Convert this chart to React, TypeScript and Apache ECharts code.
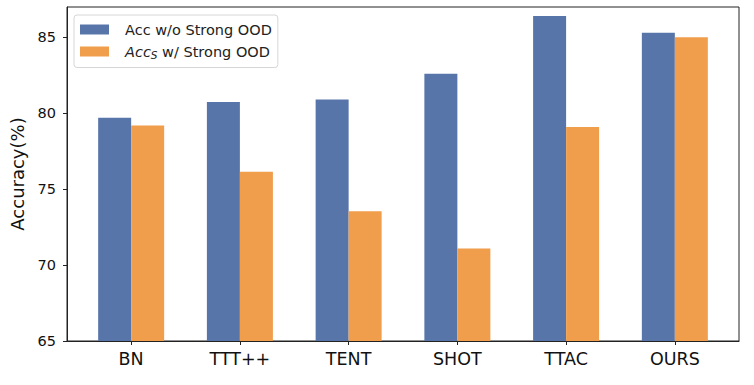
import React, { useEffect, useRef } from "react";
import * as echarts from "echarts";

const categories = ["BN", "TTT++", "TENT", "SHOT", "TTAC", "OURS"];
const accNoOOD = [79.7, 80.75, 80.9, 82.6, 86.4, 85.3];
const accStrongOOD = [79.2, 76.15, 73.55, 71.1, 79.1, 85.0];
const yTicks = [65, 70, 75, 80, 85];
const seriesNames = ["Acc w/o Strong OOD", "AccS w/ Strong OOD"];

export default function App() {
  const ref = useRef<HTMLDivElement>(null);
  useEffect(() => {
    document.body.style.margin = "0";
    const chart = echarts.init(ref.current!, null, { renderer: "svg" });
    const font = "DejaVu Sans";
    const xs = categories.map((_, i) => i);
    chart.setOption({
      animation: false,
      backgroundColor: "#ffffff",
      textStyle: { fontFamily: font },
      grid: {
        left: 67,
        top: 7,
        right: 15,
        bottom: 44,
        show: true,
        borderColor: "#222",
        borderWidth: 1,
        backgroundColor: "transparent",
      },
      legend: {
        orient: "vertical",
        left: 74,
        top: 15,
        padding: [7, 6, 7, 6],
        itemGap: 7,
        itemWidth: 29,
        itemHeight: 10,
        icon: "rect",
        backgroundColor: "rgba(255,255,255,0.8)",
        borderColor: "#d6d6d6",
        borderWidth: 1,
        borderRadius: 3,
        data: seriesNames,
        formatter: (name: string) =>
          name === seriesNames[1]
            ? "{i|Acc}{s|S}{n| w/ Strong OOD}"
            : "{n|" + name + "}",
        textStyle: {
          fontFamily: font,
          fontSize: 14.5,
          color: "#222",
          padding: [0, 0, 0, 11],
          rich: {
            n: { fontFamily: font, fontSize: 14.5, color: "#222" },
            i: { fontFamily: font, fontSize: 14.5, fontStyle: "italic", color: "#222" },
            s: { fontFamily: font, fontSize: 10.5, fontStyle: "italic", color: "#222", padding: [7, 0, 0, 0] },
          },
        },
      },
      xAxis: {
        type: "value",
        min: -0.59,
        max: 5.59,
        splitLine: { show: false },
        axisLine: { show: true, onZero: false, lineStyle: { color: "#222", width: 1 } },
        axisTick: { show: true, length: 4, customValues: xs, lineStyle: { color: "#222" } },
        axisLabel: {
          customValues: xs,
          formatter: (v: number) => categories[Math.round(v)],
          fontSize: 17.5,
          color: "#111",
          margin: 9,
          fontFamily: font,
        },
      },
      yAxis: {
        type: "value",
        min: 65,
        max: 87,
        interval: 5,
        name: "Accuracy(%)",
        nameLocation: "middle",
        nameGap: 34,
        nameTextStyle: { fontSize: 18, color: "#111", fontFamily: font },
        splitLine: { show: false },
        axisLine: { show: true, onZero: false, lineStyle: { color: "#222", width: 1 } },
        axisTick: { show: true, length: 4, customValues: yTicks, lineStyle: { color: "#222" } },
        axisLabel: {
          customValues: yTicks,
          fontSize: 14.5,
          color: "#111",
          margin: 11,
          fontFamily: font,
        },
      },
      series: [
        {
          name: seriesNames[0],
          type: "bar",
          barWidth: 33,
          barGap: "0%",
          itemStyle: { color: "#5875aa" },
          data: xs.map((x, i) => [x, accNoOOD[i]]),
        },
        {
          name: seriesNames[1],
          type: "bar",
          barWidth: 33,
          barGap: "0%",
          itemStyle: { color: "#f09e4b" },
          data: xs.map((x, i) => [x, accStrongOOD[i]]),
        },
      ],
    });
    return () => chart.dispose();
  }, []);
  return <div ref={ref} style={{ width: 754, height: 385 }} />;
}
